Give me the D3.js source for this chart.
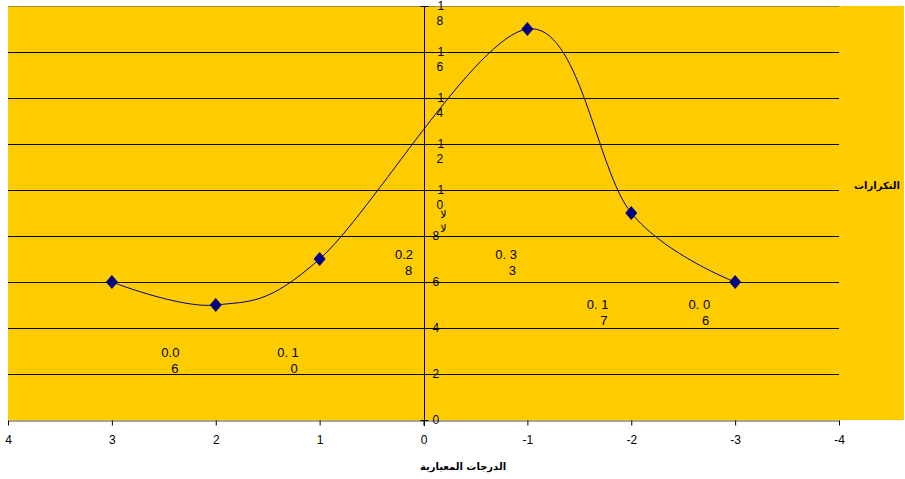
<!DOCTYPE html>
<html>
<head>
<meta charset="utf-8">
<script src="https://cdn.jsdelivr.net/npm/d3@7"></script>
<style>
	body { margin: 0; background: #fff; }
	svg { display: block; font-family: "Liberation Sans", Arial, "DejaVu Sans", sans-serif; }
</style>
</head>
<body>
<svg width="905" height="479"></svg>
<script>
// data.........................................................................

var zScores = [3, 2, 1, -1, -2, -3],
	freqs = [6, 5, 7, 17, 9, 6],
	xTicks = [4, 3, 2, 1, 0, -1, -2, -3, -4],
	yTicks = [0, 2, 4, 6, 8, 10, 12, 14, 16, 18],
	// floating proportions (two wrapped lines each), placed in data units
	noteTop = ["0.0", "0. 1", "0.2", "0. 3", "0. 1", "0. 0"],
	noteBottom = ["6", "0", "8", "3", "7", "6"],
	noteX = [2.35, 1.2, 0.1, -0.9, -1.78, -2.76],
	noteY = [2.76, 2.76, 6.98, 6.98, 4.81, 4.81];

var xTitle = "الدرجات المعيارية",
	yTitle = "التكرارات";

// scales.......................................................................

var svg = d3.select("svg"),
	plotL = 8, plotR = 839, plotT = 6, plotB = 420;

var x = d3.scaleLinear().domain([4, -4]).range([plotL, plotR]),
	y = d3.scaleLinear().domain([0, 18]).range([plotB, plotT]);

// background
svg.append("rect")
	.attr("x", plotL).attr("y", plotT)
	.attr("width", 904 - plotL).attr("height", plotB - plotT)
	.attr("fill", "#FFCC00");

// gridlines
svg.append("g")
	.selectAll("line")
	.data(yTicks.filter(function(d) { return d > 0; }))
	.enter().append("line")
		.attr("x1", plotL).attr("x2", plotR)
		.attr("y1", function(d) { return Math.round(y(d)) + 0.5; })
		.attr("y2", function(d) { return Math.round(y(d)) + 0.5; })
		.attr("stroke", function(d) { return d == 18 ? "#9a8a40" : "#000"; })
		.attr("stroke-width", 1);

// x axis
var xAxis = svg.append("g")
	.attr("transform", "translate(0," + (plotB + 0.5) + ")")
	.call(d3.axisBottom(x).tickValues(xTicks).tickSize(5).tickSizeOuter(0)
		.tickFormat(d3.format("d")));
xAxis.select(".domain").attr("stroke", "#5a4a10");
xAxis.selectAll(".tick line").attr("stroke", "#000");
xAxis.selectAll(".tick text")
	.attr("y", 15)
	.attr("font-size", 12)
	.attr("fill", "#000")
	.attr("font-family", "Liberation Sans, Arial, sans-serif")
	.text(function(d) { return d < 0 ? "-" + (-d) : d; });

// y axis (line with crossing ticks)
var x0 = Math.round(x(0)) + 0.5;
svg.append("line")
	.attr("x1", x0).attr("x2", x0)
	.attr("y1", plotT).attr("y2", plotB + 6)
	.attr("stroke", "#000");
svg.append("g")
	.selectAll("line")
	.data(yTicks)
	.enter().append("line")
		.attr("x1", x0 - 4).attr("x2", x0 + 4)
		.attr("y1", function(d) { return Math.round(y(d)) + 0.5; })
		.attr("y2", function(d) { return Math.round(y(d)) + 0.5; })
		.attr("stroke", "#000");

// y tick labels, wrapped one digit per line like the original
var yLab = svg.append("g")
	.attr("font-size", 12)
	.attr("fill", "#000")
	.selectAll("text")
	.data(yTicks)
	.enter().append("text")
		.attr("y", function(d) { return y(d) + 4; });
yLab.each(function(d) {
	var t = d3.select(this), s = String(d);
	if (s.length == 1) {
		t.attr("x", x0 + 8).text(s);
	} else {
		t.append("tspan").attr("x", x0 + 13).text(s[0]);
		t.append("tspan").attr("x", x0 + 12).attr("dy", 15).text(s[1]);
	}
});

// stray glyphs near the axis
svg.append("g")
	.attr("font-size", 11)
	.attr("fill", "#000")
	.selectAll("text")
	.data([10, 8])
	.enter().append("text")
		.attr("x", x0 + 19)
		.attr("y", function(d, i) { return 218 + i * 14; })
		.attr("text-anchor", "middle")
		.text("ﻻ");

// floating proportion labels
var notes = svg.append("g")
	.attr("font-size", 13)
	.attr("fill", "#000")
	.attr("text-anchor", "end")
	.selectAll("text")
	.data(noteX)
	.enter().append("text")
		.attr("y", function(d, i) { return y(noteY[i]); });
notes.append("tspan")
	.attr("x", function(d) { return x(d); })
	.text(function(d, i) { return noteTop[i]; });
notes.append("tspan")
	.attr("x", function(d) { return x(d) - 1; })
	.attr("dy", 16)
	.text(function(d, i) { return noteBottom[i]; });

// smoothed line
var pts = zScores.map(function(d, i) { return [x(d), y(freqs[i])]; });
svg.append("path")
	.datum(pts)
	.attr("fill", "none")
	.attr("stroke", "#000080")
	.attr("stroke-width", 1)
	.attr("d", d3.line().curve(d3.curveCardinal.tension(0)));

// diamond markers
svg.append("g")
	.selectAll("path")
	.data(pts)
	.enter().append("path")
		.attr("transform", function(d) { return "translate(" + d[0] + "," + d[1] + ")"; })
		.attr("d", "M0,-7L6,0L0,7L-6,0Z")
		.attr("fill", "#000080");

// titles
svg.append("text")
	.attr("x", 900).attr("y", 189)
	.attr("text-anchor", "end")
	.attr("font-size", 10)
	.attr("font-weight", "bold")
	.attr("font-family", "DejaVu Sans, sans-serif")
	.text(yTitle);

svg.append("text")
	.attr("x", 463).attr("y", 470)
	.attr("text-anchor", "middle")
	.attr("font-size", 10)
	.attr("font-weight", "bold")
	.attr("font-family", "DejaVu Sans, sans-serif")
	.text(xTitle);

svg.append("text")
	.attr("x", 396).attr("y", 489)
	.attr("text-anchor", "middle")
	.attr("font-size", 13)
	.attr("font-weight", "bold")
	.text("( ٢ )");
</script>
</body>
</html>
